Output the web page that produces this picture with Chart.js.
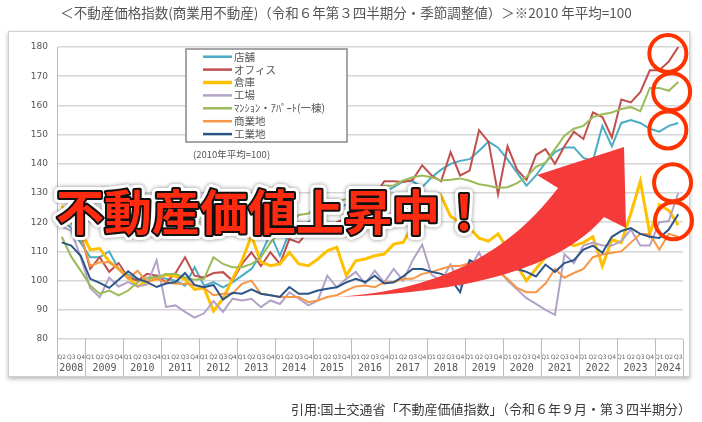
<!DOCTYPE html>
<html>
<head>
<meta charset="utf-8">
<script src="https://cdn.jsdelivr.net/npm/chart.js@4.4.1/dist/chart.umd.min.js"></script>
<style>
  html, body { margin: 0; padding: 0; background: #fff; }
  canvas { display: block; }
</style>
</head>
<body>
<canvas id="priceIndex" width="702" height="422"></canvas>
<script>
// DATA (2008 Q2 .. 2024 Q3, seasonally adjusted, 2010 avg = 100)
const years = [2008, 2009, 2010, 2011, 2012, 2013, 2014, 2015, 2016,
  2017, 2018, 2019, 2020, 2021, 2022, 2023, 2024];
const firstQuarter = 2; // series starts at 2008 Q2
const lastQuarter = 3;  // series ends at 2024 Q3

const seriesNames = ["店舗", "オフィス", "倉庫", "工場", "ﾏﾝｼｮﾝ・ｱﾊﾟｰﾄ(一棟)", "商業地", "工業地"];

const retail = [121, 118, 113, 108, 108, 110, 104, 102, 100, 100,
  101.7, 100.6, 100, 98.3, 104.6, 98.3, 99.5, 97.7, 99.4, 101.7,
  104, 109, 116, 108.5, 116.5, 118, 120, 122, 123, 125,
  126, 127, 128, 129, 130.5, 132, 134, 134, 132, 135.4,
  138, 140, 141, 141.6, 144.5, 147.6, 145.5, 141.5, 137, 132.5,
  136, 140.4, 144, 145.6, 145.6, 142, 141, 153, 146, 154,
  155, 154, 152, 151, 153, 154];

const office = [124, 120, 116, 104, 108, 103, 106, 101, 100, 102.3,
  101.7, 99.4, 102.6, 108, 101.7, 101.1, 102.6, 102.9, 100, 105.7,
  109.7, 105, 109.7, 105.7, 114.2, 113, 117, 118.2, 116, 120,
  121, 121.5, 126, 129, 134, 134, 133.8, 134.5, 139.5, 136,
  134, 144, 136, 137.7, 151.5, 147.5, 129.5, 146, 138, 134.5,
  143, 145, 140, 146, 151, 148.5, 157.6, 156, 149, 162,
  161, 164.5, 172, 172, 175, 180];

const warehouse = [125.6, 121.5, 117, 110.6, 111, 106.5, 104, 101, 98, 100,
  100.5, 102, 101.5, 100.5, 97, 97.5, 89.6, 93.8, 100.6, 106.8,
  115.4, 106.3, 105.1, 105.7, 109.7, 105.7, 105.1, 107.4, 110.2, 111.4,
  101.7, 106.8, 107.4, 108.5, 109.1, 112.5, 113.1, 118.8, 118.8, 123.3,
  129, 122, 120, 118, 114.5, 113.5, 116, 111, 105, 100,
  104, 108, 112, 113, 112, 113, 115, 105, 114, 113,
  123, 134, 116, 126, 124, 119];

const factory = [118.5, 117, 108, 97.5, 94.3, 101, 98, 99.5, 98, 98.7,
  107, 91, 91.5, 89.3, 87.3, 88.8, 93, 89.3, 93.8, 93.2,
  93.8, 90.9, 93.2, 92, 96, 93.8, 91.5, 93.2, 101.7, 97.7,
  100.6, 103, 99, 103.4, 99.4, 104, 100, 107, 112.3, 102,
  100, 105.5, 98.3, 104, 109.7, 102, 104, 100, 97, 94,
  92, 90, 88.3, 109, 106, 112, 113, 112, 112, 113.5,
  117.5, 112, 112, 120, 120.4, 130];

const apartment = [115, 108.2, 103.4, 98.3, 95.5, 96.6, 94.9, 96.6, 99.4, 101.1,
  101.1, 102.3, 102.3, 101.1, 100.3, 100.6, 108, 105.7, 104.6, 104.6,
  105.7, 108, 113, 116.6, 119.4, 122.5, 123, 125, 126, 127,
  128, 129, 130, 130.5, 132.5, 132.6, 134.3, 135.4, 136, 135.4,
  134.3, 134.5, 135, 134.2, 133, 132.5, 131.7, 132, 133.4, 135.5,
  139, 140.4, 145, 149.6, 152, 153, 156, 157, 157.6, 158.8,
  159.4, 158, 166, 166, 165, 168];

const commercialLand = [123.6, 119.7, 115.4, 105, 106.3, 106.3, 104, 100.6, 103.4, 99.4,
  100.6, 99.4, 98.9, 98.9, 98.5, 97.5, 95, 95.5, 95.5, 98.9,
  100, 95.5, 95, 94.4, 94.4, 94.4, 92.6, 93.2, 94.4, 95,
  96.6, 98, 98.3, 97.7, 99.4, 99.4, 100.6, 100.6, 102.3, 102.9,
  104, 105, 105, 106, 105, 104, 103, 100.6, 97.5, 96,
  96, 99, 104, 101, 102.6, 104, 108, 109, 109.5, 110,
  113, 116, 116, 110.6, 116, 115];

const industrialLand = [113.1, 112, 108.5, 100.6, 99.2, 97.5, 100.3, 103.2, 100.6, 99.5,
  97.8, 99, 99.5, 102.6, 98.5, 97.7, 98.5, 93.5, 95.8, 95.5,
  97, 95.5, 95, 94.4, 97.8, 95.5, 95.5, 96.6, 97.2, 97.7,
  99.4, 100.6, 99.5, 101.7, 99, 99.4, 101.5, 104, 104, 103,
  102.3, 100.6, 96, 107, 105.5, 104, 104, 103.5, 104, 103,
  101.4, 105.5, 103, 106, 107, 110.6, 112, 109.5, 115, 117,
  118, 116, 115, 114.6, 117.5, 122.7];

const seriesValues = [retail, office, warehouse, factory, apartment, commercialLand, industrialLand];
const seriesColors = ["#4bacc6", "#c0504d", "#ffc000", "#b3a2c7", "#9bbb59", "#f79646", "#2c5688"];

// quarter labels + which year each belongs to
const labels = [];
const labelYears = [];
years.forEach((y, yi) => {
  const from = yi === 0 ? firstQuarter : 1;
  const to = yi === years.length - 1 ? lastQuarter : 4;
  for (let q = from; q <= to; q++) {
    labels.push("Q" + q);
    labelYears.push(y);
  }
});

const JP = "'Noto Sans CJK JP', 'Noto Sans', sans-serif";

function drawPage(chart) {
  const ctx = chart.ctx;
  ctx.save();
  ctx.fillStyle = "#fff";
  ctx.fillRect(0, 0, chart.width, chart.height);

  // chart frame with soft shadow
  ctx.shadowColor = "rgba(0,0,0,0.28)";
  ctx.shadowBlur = 4;
  ctx.shadowOffsetY = 2;
  ctx.fillRect(8, 31, 682, 346);
  ctx.shadowColor = "transparent";
  ctx.strokeStyle = "#d0d0d0";
  ctx.lineWidth = 1;
  ctx.strokeRect(8.5, 31.5, 681, 345);

  ctx.fillStyle = "#555";
  ctx.font = "13.5px " + JP;
  ctx.textAlign = "center";
  ctx.textBaseline = "middle";
  ctx.fillText("＜不動産価格指数(商業用不動産)（令和６年第３四半期分・季節調整値）＞※2010 年平均=100", 346, 13);

  ctx.fillStyle = "#3a3a3a";
  ctx.font = "13px " + JP;
  ctx.textAlign = "right";
  ctx.fillText("引用:国土交通省「不動産価値指数」（令和６年９月・第３四半期分）", 691, 409);
  ctx.restore();
}

function drawYears(chart) {
  const ctx = chart.ctx;
  const xs = chart.scales.x;
  const area = chart.chartArea;
  const half = (xs.getPixelForValue(1) - xs.getPixelForValue(0)) / 2;
  ctx.save();
  ctx.strokeStyle = "#bbb";
  ctx.lineWidth = 1;
  ctx.fillStyle = "#555";
  ctx.font = "10px 'DejaVu Sans Mono', monospace";
  ctx.textAlign = "center";
  ctx.textBaseline = "middle";
  years.forEach(y => {
    const first = labelYears.indexOf(y);
    const last = labelYears.lastIndexOf(y);
    const x0 = xs.getPixelForValue(first) - half;
    const x1 = xs.getPixelForValue(last) + half;
    [x0, x1].forEach(x => {
      ctx.beginPath();
      ctx.moveTo(Math.round(x) + 0.5, area.bottom);
      ctx.lineTo(Math.round(x) + 0.5, 377);
      ctx.stroke();
    });
    ctx.fillText(String(y), (x0 + x1) / 2, 368);
  });
  ctx.restore();
}

function drawLegend(chart) {
  const ctx = chart.ctx;
  ctx.save();
  ctx.fillStyle = "#fff";
  ctx.fillRect(186, 49, 161, 93);
  ctx.strokeStyle = "#888";
  ctx.lineWidth = 1.5;
  ctx.strokeRect(186, 49, 161, 93);
  ctx.font = "10.5px " + JP;
  ctx.textBaseline = "middle";
  chart.data.datasets.forEach((ds, i) => {
    const y = 56.7 + i * 12.9;
    ctx.strokeStyle = ds.borderColor;
    ctx.lineWidth = ds.borderWidth + 0.5;
    ctx.beginPath();
    ctx.moveTo(203, y);
    ctx.lineTo(232, y);
    ctx.stroke();
    ctx.fillStyle = "#555";
    ctx.fillText(ds.label, 234, y);
  });
  ctx.font = "9.5px " + JP;
  ctx.fillText("(2010年平均=100)", 193, 154);
  ctx.restore();
}

function drawOverlay(chart) {
  const ctx = chart.ctx;
  const xs = chart.scales.x;
  const ys = chart.scales.y;
  ctx.save();

  // rising arrow
  ctx.fillStyle = "#f53a3a";
  ctx.beginPath();
  ctx.moveTo(335, 297);
  ctx.bezierCurveTo(420, 292, 500, 265, 558, 188);
  ctx.lineTo(537, 175);
  ctx.lineTo(624, 147);
  ctx.lineTo(626, 228);
  ctx.lineTo(604, 217);
  ctx.bezierCurveTo(560, 268, 470, 293, 335, 297);
  ctx.closePath();
  ctx.fill();

  // headline
  const text = "不動産価値上昇中！";
  ctx.font = "bold 48px " + JP;
  ctx.textAlign = "left";
  ctx.textBaseline = "middle";
  ctx.lineJoin = "round";
  ctx.shadowColor = "rgba(0,0,0,0.45)";
  ctx.shadowBlur = 4;
  ctx.strokeStyle = "#fff";
  ctx.lineWidth = 10;
  ctx.strokeText(text, 56, 212);
  ctx.shadowColor = "transparent";
  ctx.strokeStyle = "#111";
  ctx.lineWidth = 4;
  ctx.strokeText(text, 56, 212);
  ctx.fillStyle = "#ff2a10";
  ctx.fillText(text, 56, 212);

  // highlight rings at the latest quarters
  ctx.strokeStyle = "#ff3300";
  ctx.lineWidth = 4;
  [[63.9, 177.8], [64.3, 164.7], [63.9, 151.6], [64.4, 133.5], [64.5, 120.5]].forEach(([qi, v]) => {
    ctx.beginPath();
    ctx.arc(xs.getPixelForValue(qi), ys.getPixelForValue(v), 18.5, 0, Math.PI * 2);
    ctx.stroke();
  });
  ctx.restore();
}

const decor = {
  id: "decor",
  beforeDraw: drawPage,
  afterDatasetsDraw(chart) {
    drawYears(chart);
    drawLegend(chart);
    drawOverlay(chart);
  },
};

new Chart(document.getElementById("priceIndex").getContext("2d"), {
  type: "line",
  data: {
    labels: labels,
    datasets: seriesNames.map((name, i) => ({
      label: name,
      data: seriesValues[i],
      borderColor: seriesColors[i],
      borderWidth: i === 2 ? 3 : 2,
      pointRadius: 0,
      tension: 0,
      fill: false,
      order: seriesNames.length - i,
    })),
  },
  options: {
    responsive: false,
    animation: false,
    layout: { padding: { left: 10, right: 19, top: 47, bottom: 45 } },
    plugins: { legend: { display: false }, tooltip: { enabled: false } },
    scales: {
      x: {
        offset: true,
        grid: { display: false },
        border: { display: false },
        ticks: {
          autoSkip: false,
          maxRotation: 0,
          padding: 7,
          color: "#666",
          font: { size: 6, family: "'DejaVu Sans', sans-serif" },
        },
        afterFit: s => { s.height = 38; },
      },
      y: {
        min: 80,
        max: 180,
        ticks: {
          stepSize: 10,
          padding: 9,
          color: "#555",
          font: { size: 9, family: "'DejaVu Sans', sans-serif" },
        },
        grid: { color: "#d6d6d6", lineWidth: 1.5, drawTicks: false },
        border: { color: "#bbb", width: 1 },
        afterFit: s => { s.width = 47; },
      },
    },
  },
  plugins: [decor],
});
</script>
</body>
</html>
